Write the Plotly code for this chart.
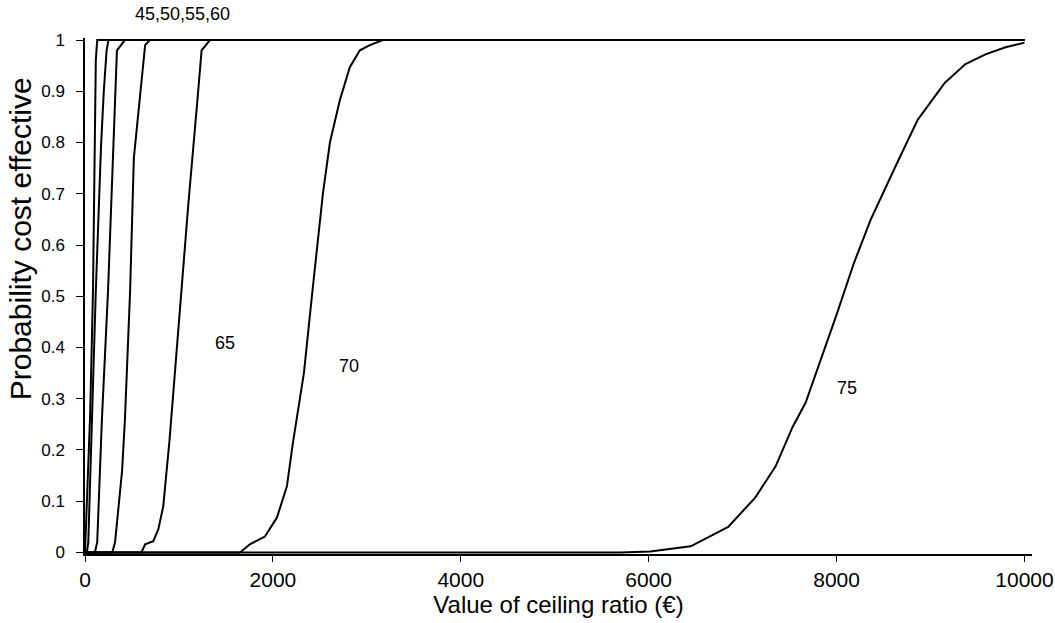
import plotly.graph_objects as go

# Ceiling ratio (EUR) and probability cost-effective, one pair of arrays per curve
x45 = [0, 30, 55, 85, 100, 115, 130, 10000]
y45 = [0, 0.16, 0.27, 0.51, 0.79, 0.96, 1.0, 1.0]

x50 = [0, 20, 35, 65, 85, 115, 170, 200, 230, 250, 10000]
y50 = [0, 0, 0.02, 0.2, 0.3, 0.51, 0.79, 0.9, 0.98, 1.0, 1.0]

x55 = [0, 105, 130, 180, 245, 300, 340, 425, 10000]
y55 = [0, 0, 0.02, 0.26, 0.51, 0.79, 0.98, 1.0, 1.0]

x60 = [0, 290, 320, 395, 425, 480, 520, 640, 690, 10000]
y60 = [0, 0, 0.02, 0.16, 0.26, 0.51, 0.77, 0.99, 1.0, 1.0]

x65 = [0, 600, 640, 727, 780, 833, 900, 1000, 1100, 1200, 1241, 1330, 10000]
y65 = [0, 0, 0.016, 0.022, 0.045, 0.09, 0.22, 0.45, 0.68, 0.89, 0.98, 1.0, 1.0]

x70 = [0, 1650, 1755, 1800, 1915, 2043, 2149, 2213, 2330, 2415, 2532, 2607,
       2713, 2819, 2926, 3032, 3170, 10000]
y70 = [0, 0, 0.016, 0.02, 0.031, 0.068, 0.129, 0.214, 0.35, 0.5, 0.7, 0.8,
       0.883, 0.947, 0.98, 0.99, 1.0, 1.0]

x75 = [0, 5700, 6016, 6447, 6846, 7134, 7351, 7532, 7670, 7851, 8000, 8181,
       8362, 8649, 8862, 9149, 9372, 9585, 9798, 10000]
y75 = [0, 0, 0.002, 0.012, 0.05, 0.107, 0.168, 0.245, 0.292, 0.386, 0.464, 0.563,
       0.649, 0.762, 0.844, 0.916, 0.953, 0.972, 0.986, 0.995]

curves = [("45", x45, y45), ("50", x50, y50), ("55", x55, y55), ("60", x60, y60),
          ("65", x65, y65), ("70", x70, y70), ("75", x75, y75)]

labels = ["45,50,55,60", "65", "70", "75"]
label_x = [1043, 1489, 2809, 8106]
label_y = [1.047, 0.408, 0.365, 0.322]

x_ticks = [0, 2000, 4000, 6000, 8000, 10000]
y_ticks = [0, 0.1, 0.2, 0.3, 0.4, 0.5, 0.6, 0.7, 0.8, 0.9, 1]
y_tick_text = ["0", "0.1", "0.2", "0.3", "0.4", "0.5", "0.6", "0.7", "0.8", "0.9", "1"]

x_title = "Value of ceiling ratio (€)"
y_title = "Probability cost effective"

FONT = "Liberation Sans, Arial, sans-serif"

fig = go.Figure()
for name, xs, ys in curves:
    fig.add_trace(go.Scatter(x=xs, y=ys, mode="lines", name=name,
                             line=dict(color="black", width=2),
                             showlegend=False, hoverinfo="skip"))

for t, lx, ly in zip(labels, label_x, label_y):
    fig.add_annotation(x=lx, y=ly, xref="x", yref="paper", text=t, showarrow=False,
                       xanchor="center", yanchor="middle",
                       font=dict(family=FONT, size=18, color="black"))

# y-axis title placed as rotated text (sits above the axis centre in the original)
fig.add_annotation(x=-0.0686, y=0.61, xref="paper", yref="paper", text=y_title,
                   textangle=-90, showarrow=False, xanchor="center", yanchor="middle",
                   font=dict(family=FONT, size=30, color="black"))

fig.update_layout(
    width=1055, height=623,
    margin=dict(l=85, r=23, t=38, b=69),
    plot_bgcolor="white", paper_bgcolor="white",
    font=dict(family=FONT, color="black"),
)
fig.update_xaxes(
    range=[0, 10080], tickvals=x_ticks, ticktext=[str(v) for v in x_ticks],
    showgrid=False, zeroline=False, showline=True, linecolor="black", linewidth=1.5,
    ticks="outside", ticklen=6, tickcolor="black", tickwidth=1,
    tickfont=dict(size=21, family=FONT), automargin=False,
    title=dict(text=x_title, font=dict(size=24, family=FONT), standoff=6),
)
fig.update_yaxes(
    range=[-0.003, 1.004], tickvals=y_ticks, ticktext=y_tick_text,
    showgrid=False, zeroline=False, showline=True, linecolor="black", linewidth=1.5,
    ticks="outside", ticklen=7, tickcolor="black", tickwidth=1,
    tickfont=dict(size=17, family=FONT), automargin=False, ticklabelstandoff=8,
)

# remove the default 8px page margin so the figure fills the 1055x623 window
fig.write_html("out.html",
               config={"displayModeBar": False},
               post_script="document.body.style.margin='0';"
                           "document.body.style.overflow='hidden';")
